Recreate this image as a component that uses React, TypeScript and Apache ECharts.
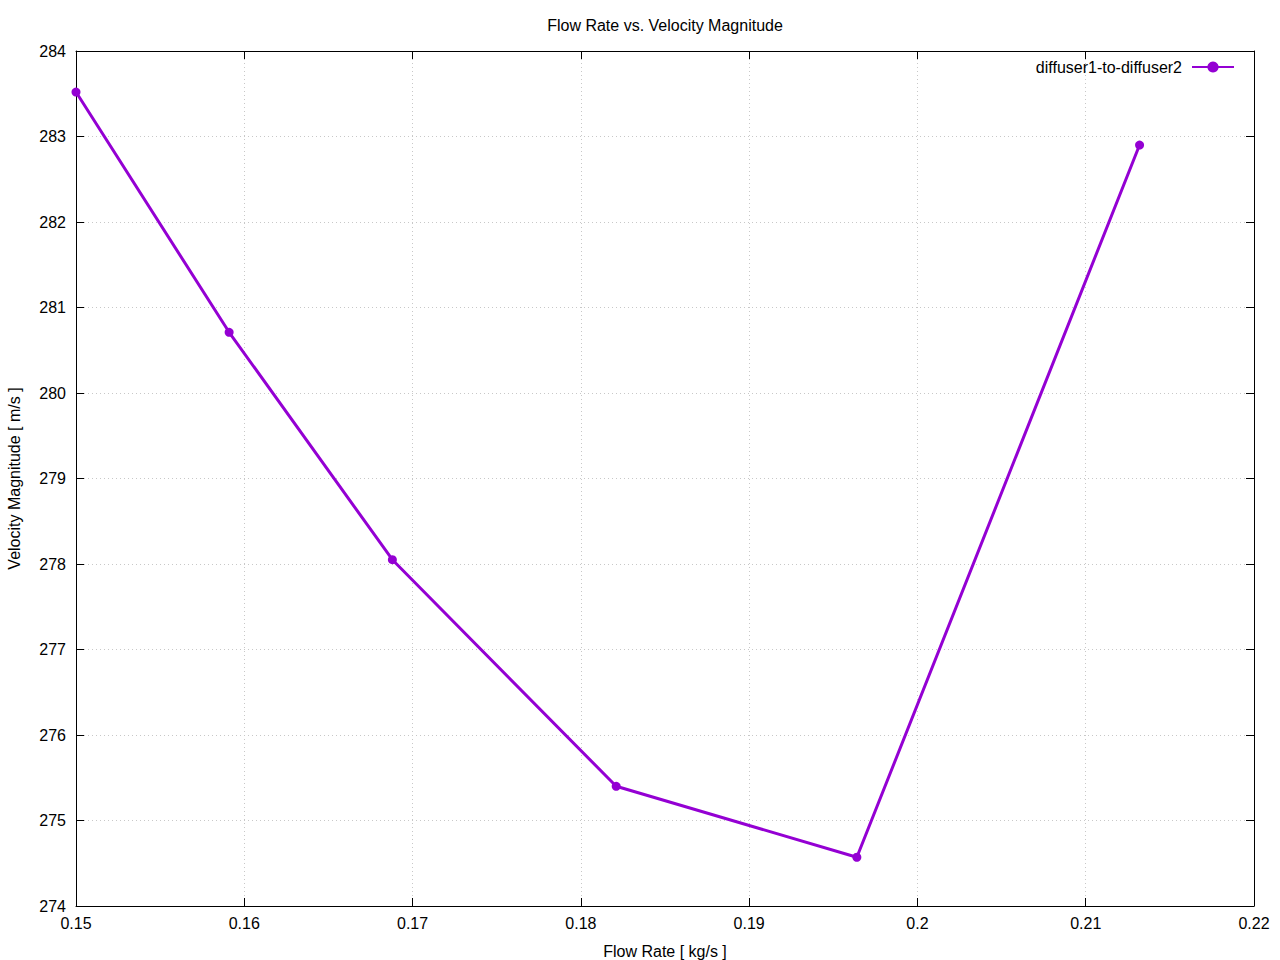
import React, { useEffect, useRef } from "react";
import * as echarts from "echarts";

const flowRate = [0.15, 0.1591, 0.1688, 0.1821, 0.1964, 0.2132];
const velocity = [283.52, 280.71, 278.05, 275.4, 274.57, 282.9];
const seriesName = "diffuser1-to-diffuser2";
const titleText = "Flow Rate vs. Velocity Magnitude";
const xName = "Flow Rate [ kg/s ]";
const yName = "Velocity Magnitude [ m/s ]";

const FONT = "'Liberation Sans', Arial, sans-serif";
const LINE_COLOR = "#9400d3";
const FS = 16;

export default function App() {
  const ref = useRef<HTMLDivElement>(null);
  useEffect(() => {
    if (!ref.current) return;
    const chart = echarts.init(ref.current, null, { renderer: "svg" });
    const axisLine = { show: true, lineStyle: { color: "#000", width: 1 } };
    const tick = { show: true, inside: true, length: 8, lineStyle: { color: "#000" } };
    const split = { show: true, lineStyle: { color: "#c8c8c8", type: [1, 3] as any, width: 1 } };
    const fmtX = (v: number) => String(+v.toFixed(2));
    chart.setOption({
      animation: false,
      backgroundColor: "#fff",
      textStyle: { fontFamily: FONT },
      title: {
        text: titleText,
        left: 660,
        textAlign: "center",
        top: 12,
        textStyle: { fontFamily: FONT, fontSize: FS, fontWeight: "normal", color: "#000" },
      },
      legend: {
        show: true,
        right: 40,
        top: 54,
        align: "right",
        itemWidth: 42,
        itemHeight: 14,
        textStyle: { fontFamily: FONT, fontSize: FS, color: "#000", padding: [0, 5, 0, 0] },
        data: [seriesName],
      },
      grid: { left: 76, right: 26, top: 51, bottom: 54, containLabel: false, outerBoundsMode: "none" },
      xAxis: [
        {
          type: "value",
          min: 0.15,
          max: 0.22,
          interval: 0.01,
          position: "bottom",
          name: xName,
          nameLocation: "middle",
          nameGap: 37,
          nameTextStyle: { fontFamily: FONT, fontSize: FS, color: "#000" },
          axisLine,
          axisTick: tick,
          axisLabel: { fontFamily: FONT, fontSize: FS, color: "#000", margin: 9, formatter: fmtX },
          splitLine: split,
        },
        {
          type: "value",
          min: 0.15,
          max: 0.22,
          interval: 0.01,
          position: "top",
          axisLine,
          axisTick: tick,
          axisLabel: { show: false },
          splitLine: { show: false },
        },
      ],
      yAxis: [
        {
          type: "value",
          min: 274,
          max: 284,
          interval: 1,
          position: "left",
          name: yName,
          nameLocation: "middle",
          nameGap: 54,
          nameTextStyle: { fontFamily: FONT, fontSize: FS, color: "#000" },
          axisLine,
          axisTick: tick,
          axisLabel: { fontFamily: FONT, fontSize: FS, color: "#000", margin: 10 },
          splitLine: split,
        },
        {
          type: "value",
          min: 274,
          max: 284,
          interval: 1,
          position: "right",
          axisLine,
          axisTick: tick,
          axisLabel: { show: false },
          splitLine: { show: false },
        },
      ],
      series: [
        {
          name: seriesName,
          type: "line",
          xAxisIndex: 0,
          yAxisIndex: 0,
          data: flowRate.map((x, i) => [x, velocity[i]]),
          symbol: "circle",
          symbolSize: 9,
          showSymbol: true,
          lineStyle: { color: LINE_COLOR, width: 3 },
          itemStyle: { color: LINE_COLOR },
          clip: false,
        },
      ],
    });
    return () => chart.dispose();
  }, []);
  return (
    <div
      ref={ref}
      style={{ position: "fixed", left: 0, top: 0, width: 1280, height: 960, background: "#fff" }}
    />
  );
}
